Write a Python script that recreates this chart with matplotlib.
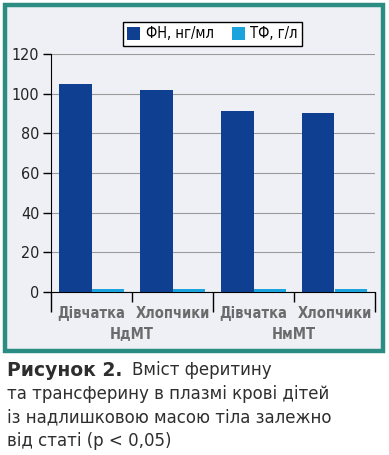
import matplotlib
matplotlib.use("Agg")
import matplotlib.pyplot as plt
from matplotlib.patches import Rectangle, Patch

categories = ["Дівчатка", "Хлопчики", "Дівчатка", "Хлопчики"]
groups = ["НдМТ", "НмМТ"]
fn_values = [105, 102, 91.5, 90]
tf_values = [1.5, 1.5, 1.5, 1.5]
series_names = ["ФН, нг/мл", "ТФ, г/л"]
yticks = [0, 20, 40, 60, 80, 100, 120]
caption_bold = "Рисунок 2."
caption_rest = "Вміст феритину"
caption_lines = ["та трансферину в плазмі крові дітей",
                 "із надлишковою масою тіла залежно",
                 "від статі (p < 0,05)"]

W, H = 389, 455
fig = plt.figure(figsize=(W / 100, H / 100), dpi=100)
fig.patch.set_facecolor("white")

def fx(px): return px / W
def fy(py): return 1 - py / H

fig.add_artist(Rectangle((fx(5), fy(351)), fx(378), 346 / H, transform=fig.transFigure,
                         facecolor="#eef0f6", edgecolor="#2b8d82", linewidth=3.2, zorder=0))

cond = ["DejaVu Sans"]
st = "condensed"
ax = fig.add_axes([fx(51), fy(292), fx(375) - fx(51), (292 - 54) / H])
ax.set_facecolor("none")
x = list(range(len(categories)))
w = 0.4
ax.bar([i - w / 2 for i in x], fn_values, width=w, color="#0e3f91", zorder=3)
ax.bar([i + w / 2 for i in x], tf_values, width=w, color="#1ba3dd", zorder=3)
ax.set_xlim(-0.5, 3.5)
ax.set_ylim(0, 120)
ax.set_yticks(yticks)
ax.set_yticklabels([str(v) for v in yticks], family=cond, stretch=st, fontsize=11.5, color="#222222")
ax.yaxis.grid(True, color="#9a9a9a", linewidth=0.8, zorder=0)
for s in ["top", "right"]:
    ax.spines[s].set_visible(False)
ax.spines["left"].set_color("black")
ax.spines["bottom"].set_color("black")
ax.tick_params(axis="y", length=6, width=1, color="black", pad=2.5)
ax.set_xticks([-0.5, 1.5, 3.5])
ax.set_xticks([0.5, 2.5], minor=True)
ax.tick_params(axis="x", which="major", length=14.5, width=1, color="black", labelbottom=False)
ax.tick_params(axis="x", which="minor", length=7, width=1, color="black", labelbottom=False)

tr = ax.get_xaxis_transform()
for i, c in enumerate(categories):
    ax.text(i, -0.09, c, transform=tr, ha="center", va="center", family=cond, stretch=st,
            fontsize=10.5, fontweight="bold", color="#6b6b6b")
for j, g in enumerate(groups):
    ax.text(2 * j + 0.5, -0.18, g, transform=tr, ha="center", va="center", family=cond, stretch=st,
            fontsize=10.5, fontweight="bold", color="#6b6b6b")

handles = [Patch(facecolor="#0e3f91"), Patch(facecolor="#1ba3dd")]
leg = fig.legend(handles, series_names, loc="center", bbox_to_anchor=(fx(212.5), fy(34)),
                 ncol=2, frameon=True, fancybox=False, edgecolor="black", facecolor="white",
                 framealpha=1, handlelength=0.9, handleheight=0.9, handletextpad=0.4,
                 columnspacing=1.2, borderpad=0.3, prop={"family": cond, "stretch": st, "size": 10.5})
leg.get_frame().set_linewidth(1)

capc = "#2e2e2e"
t1 = fig.text(fx(7), fy(370), caption_bold, ha="left", va="center", fontsize=13.5,
              fontweight="bold", color=capc, family="DejaVu Sans")
fig.canvas.draw()
bb = t1.get_window_extent()
fig.text((bb.x1 + 10) / W, fy(370), caption_rest, ha="left", va="center", fontsize=12,
         color=capc, family="DejaVu Sans")
for k, line in enumerate(caption_lines):
    fig.text(fx(7), fy(394 + 23.5 * k), line, ha="left", va="center", fontsize=12,
             color=capc, family="DejaVu Sans")

fig.savefig("out.png", dpi=100)
